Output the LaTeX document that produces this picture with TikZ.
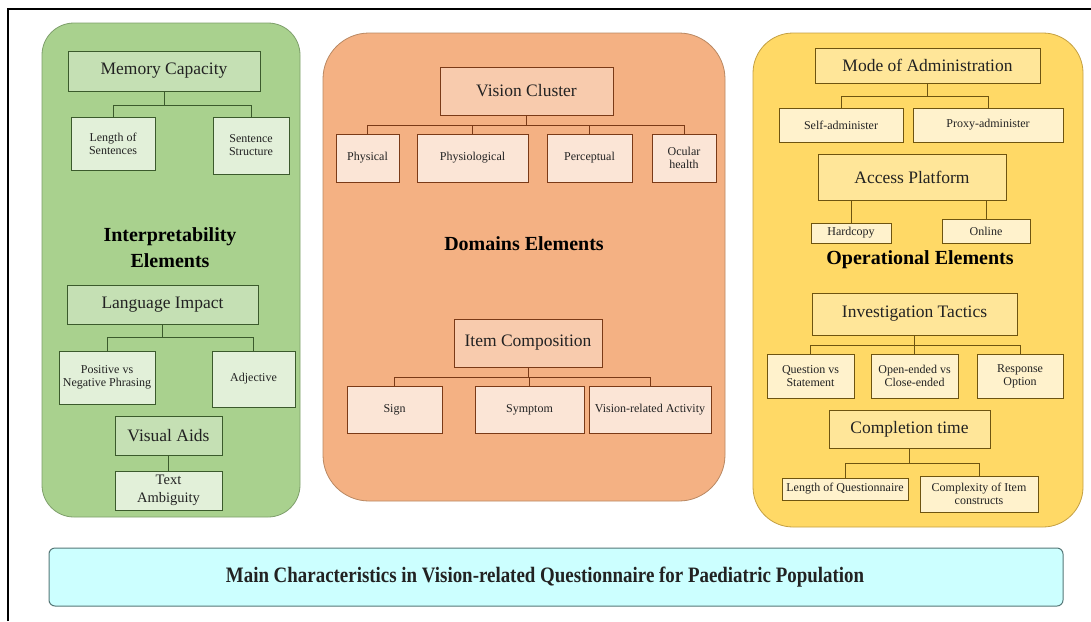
\documentclass[tikz,border=0pt]{standalone}
\usepackage{fontspec}
\setmainfont{Liberation Serif}
\newfontfamily\titlefont[FakeStretch=0.86]{Liberation Serif}
\usetikzlibrary{calc}

% panel colours
\definecolor{gPanel}{HTML}{A9D18E}
\definecolor{gPanelLine}{HTML}{7E9F6B}
\definecolor{gBig}{HTML}{C5E0B4}
\definecolor{gSmall}{HTML}{E2F0D9}
\definecolor{gLine}{HTML}{3B5A2C}
\definecolor{oPanel}{HTML}{F4B183}
\definecolor{oPanelLine}{HTML}{B98862}
\definecolor{oBig}{HTML}{F8CBAD}
\definecolor{oSmall}{HTML}{FBE5D6}
\definecolor{oLine}{HTML}{7A3A17}
\definecolor{yPanel}{HTML}{FFD966}
\definecolor{yPanelLine}{HTML}{C4A043}
\definecolor{yBig}{HTML}{FFE699}
\definecolor{ySmall}{HTML}{FFF2CC}
\definecolor{yLine}{HTML}{6E5410}
\definecolor{tFill}{HTML}{CCFFFF}
\definecolor{tLine}{HTML}{557777}
\definecolor{ink}{HTML}{222222}

% box placed by its corners: style, name, x1, y1, x2, y2, text
\newcommand\placebox[7]{%
  \node[#1, minimum width={(#5-#3)*1pt}, minimum height={(#6-#4)*1pt}]
    (#2) at ({(#3+#5)/2},{(#4+#6)/2}) {#7};}

\tikzset{
  basebox/.style={draw, rectangle, inner sep=1pt, align=center, text=ink, line width=0.9pt},
  bigtxt/.style={font=\fontsize{17.5}{20}\selectfont},
  midtxt/.style={font=\fontsize{14.5}{18}\selectfont},
  smalltxt/.style={font=\fontsize{12}{13}\selectfont},
  gbig/.style={basebox, bigtxt, fill=gBig, draw=gLine},
  gsmall/.style={basebox, smalltxt, fill=gSmall, draw=gLine},
  obig/.style={basebox, bigtxt, fill=oBig, draw=oLine},
  osmall/.style={basebox, smalltxt, fill=oSmall, draw=oLine},
  ybig/.style={basebox, bigtxt, fill=yBig, draw=yLine},
  ysmall/.style={basebox, smalltxt, fill=ySmall, draw=yLine},
  gconn/.style={draw=gLine, line width=0.9pt},
  oconn/.style={draw=oLine, line width=0.9pt},
  yconn/.style={draw=yLine, line width=0.9pt},
  heading/.style={font=\fontsize{20}{26}\selectfont\bfseries, text=black, align=center},
}

\begin{document}
\begin{tikzpicture}[x=1pt, y=-1pt]
\useasboundingbox (0,0) rectangle (1091,621);
\fill[white] (0,0) rectangle (1091,621);

% outer frame (top and left edges)
\draw[line width=1.6pt, black] (8,621) -- (8,9) -- (1091,9);

% ---------- panels ----------
\draw[fill=gPanel, draw=gPanelLine, line width=0.8pt, rounded corners=32pt] (42,23) rectangle (300,517);
\draw[fill=oPanel, draw=oPanelLine, line width=0.8pt, rounded corners=46pt] (323,33) rectangle (725,501);
\draw[fill=yPanel, draw=yPanelLine, line width=0.8pt, rounded corners=40pt] (753,33) rectangle (1083,527);

% ---------- interpretability ----------
\placebox{gbig}{mc}{68}{51}{260}{91}{Memory Capacity}
\placebox{gsmall}{los}{71}{117}{155}{170}{Length of\\Sentences}
\placebox{gsmall}{ss}{213}{117}{289}{174}{Sentence\\Structure}
\draw[gconn] (mc.south) -- ++(0,14) -| (los.north);
\draw[gconn] (mc.south) -- ++(0,14) -| (ss.north);

\node[heading] (intp) at (170,248) {Interpretability\\Elements};

\placebox{gbig}{li}{67}{285}{258}{324}{Language Impact}
\placebox{gsmall}{pvn}{59}{351}{155}{404}{Positive vs\\Negative Phrasing}
\placebox{gsmall}{adj}{212}{351}{295}{407}{Adjective}
\draw[gconn] (li.south) -- ++(0,13) -| (pvn.north);
\draw[gconn] (li.south) -- ++(0,13) -| (adj.north);

\placebox{gbig}{va}{115}{416}{222}{455}{Visual Aids}
\placebox{gsmall, midtxt}{ta}{115}{471}{222}{510}{Text\\Ambiguity}
\draw[gconn] (va.south) -- (ta.north);

% ---------- domains ----------
\placebox{obig}{vc}{440}{67}{613}{115}{Vision Cluster}
\placebox{osmall}{phy}{336}{134}{399}{182}{Physical}
\placebox{osmall}{phl}{417}{134}{528}{182}{Physiological}
\placebox{osmall}{per}{547}{134}{632}{182}{Perceptual}
\placebox{osmall}{och}{652}{134}{716}{182}{Ocular\\health}
\foreach \n in {phy,phl,per,och}
  \draw[oconn] (vc.south) -- ++(0,10) -| (\n.north);

\node[heading] (dom) at (524,244) {Domains Elements};

\placebox{obig}{ic}{454}{319}{602}{367}{Item Composition}
\placebox{osmall}{sgn}{347}{386}{442}{433}{Sign}
\placebox{osmall}{sym}{475}{386}{584}{433}{Symptom}
\placebox{osmall}{vra}{589}{386}{711}{433}{Vision-related Activity}
\foreach \n in {sgn,sym,vra}
  \draw[oconn] (ic.south) -- ++(0,10) -| (\n.north);

% ---------- operational ----------
\placebox{ybig}{moa}{815}{48}{1040}{83}{Mode of Administration}
\placebox{ysmall}{self}{779}{108}{903}{142}{Self-administer}
\placebox{ysmall}{prx}{913}{108}{1063}{142}{Proxy-administer}
\draw[yconn] (moa.south) -- ++(0,13) -| (self.north);
\draw[yconn] (moa.south) -- ++(0,13) -| (prx.north);

\placebox{ybig}{ap}{818}{154}{1006}{200}{Access Platform}
\placebox{ysmall}{hc}{811}{223}{891}{243}{Hardcopy}
\placebox{ysmall}{onl}{942}{219}{1030}{243}{Online}
\draw[yconn] (ap.south -| hc.north) -- (hc.north);
\draw[yconn] (ap.south -| onl.north) -- (onl.north);

\node[heading] (ope) at (920,260) {Operational Elements};

\placebox{ybig}{it}{812}{293}{1017}{335}{Investigation Tactics}
\placebox{ysmall}{qvs}{767}{354}{854}{398}{Question vs\\Statement}
\placebox{ysmall}{ovc}{871}{354}{958}{398}{Open-ended vs\\Close-ended}
\placebox{ysmall}{rop}{977}{354}{1063}{398}{Response\\Option}
\foreach \n in {qvs,ovc,rop}
  \draw[yconn] (it.south) -- ++(0,10) -| (\n.north);

\placebox{ybig}{ct}{829}{410}{990}{448}{Completion time}
\placebox{ysmall}{loq}{782}{478}{908}{500}{Length of Questionnaire}
\placebox{ysmall}{coi}{920}{476}{1038}{512}{Complexity of Item\\constructs}
\draw[yconn] (ct.south) -- ++(0,15) -| (loq.north);
\draw[yconn] (ct.south) -- ++(0,15) -| (coi.north);

% ---------- title bar ----------
\draw[fill=tFill, draw=tLine, line width=1pt, rounded corners=6pt] (49,548) rectangle (1063,606);
\node[font=\titlefont\fontsize{22}{24}\selectfont\bfseries, text=ink] (title) at (545,577)
  {Main Characteristics in Vision-related Questionnaire for Paediatric Population};
\end{tikzpicture}
\end{document}
